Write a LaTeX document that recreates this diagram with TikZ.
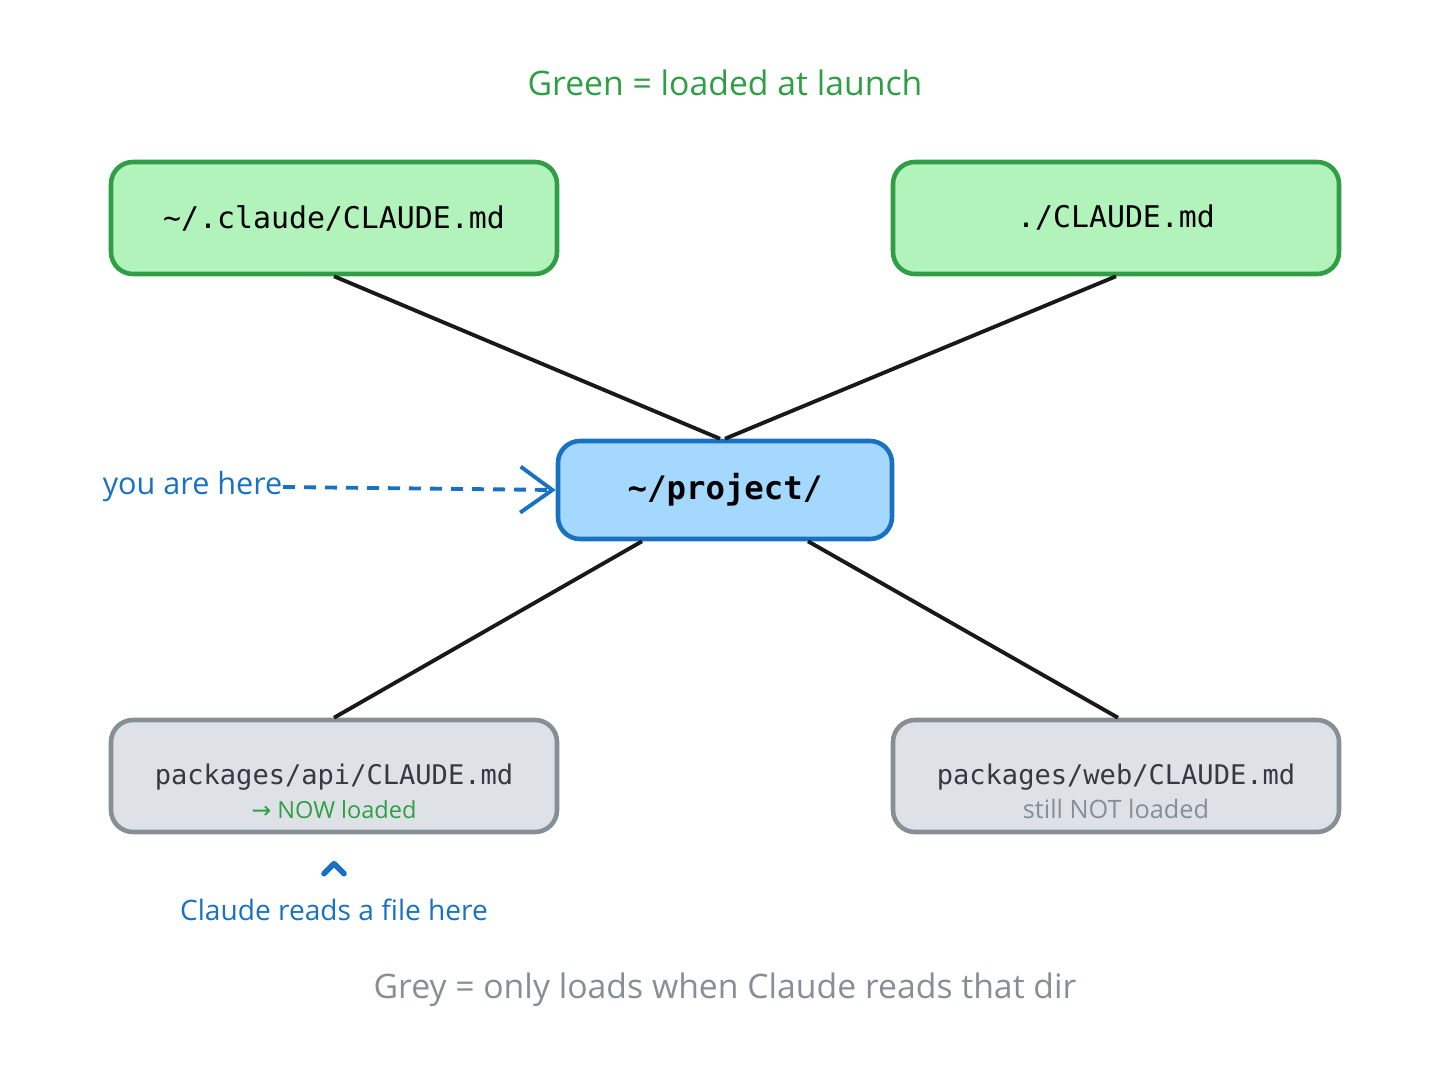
\documentclass[tikz,border=0pt]{standalone}
\usepackage{fontspec}
\setmainfont{Open Sans}
\setmonofont{DejaVu Sans Mono}
\newfontfamily\arrowsym{DejaVu Sans}
\usetikzlibrary{arrows.meta}
\definecolor{leaffill}{HTML}{B2F2BB}
\definecolor{leafline}{HTML}{2F9E44}
\definecolor{herefill}{HTML}{A5D8FF}
\definecolor{hereline}{HTML}{1971C2}
\definecolor{lazyfill}{HTML}{DEE2E6}
\definecolor{lazyline}{HTML}{868E96}
\definecolor{lazytext}{HTML}{343A40}
\tikzset{
  filebox/.style={draw, rounded corners=0.22cm, line width=1.3pt,
    minimum width=4.46cm, minimum height=1.12cm, align=center},
  loaded/.style={filebox, fill=leaffill, draw=leafline,
    font=\ttfamily\fontsize{8.5}{10}\selectfont},
  lazy/.style={filebox, fill=lazyfill, draw=lazyline, text=lazytext,
    inner ysep=0pt, text height=0.96cm, text depth=0.12cm,
    font=\ttfamily\fontsize{7.7}{9.6}\selectfont},
  link/.style={line width=1.1pt, black!90},
  note/.style={font=\fontsize{9.6}{11}\selectfont}
}
\begin{document}
\begin{tikzpicture}
  \useasboundingbox (0,0) rectangle (14.56,10.73);
  % legend on top
  \node[note, text=leafline] (green) at (7.25,9.90) {Green = loaded at launch};
  % always loaded files
  \node[loaded] (home) at (3.34,8.55) {\~{}/.claude/CLAUDE.md};
  \node[loaded] (root) at (11.16,8.55) {./CLAUDE.md};
  % working directory
  \node[filebox, fill=herefill, draw=hereline, minimum width=3.34cm,
    minimum height=0.98cm, font=\ttfamily\bfseries\fontsize{9.2}{11}\selectfont]
    (proj) at (7.25,5.83) {\~{}/project/};
  \node[text=hereline, anchor=east, inner sep=0pt, font=\fontsize{8.7}{10}\selectfont]
    (you) at (2.83,5.86) {you are here};
  \draw[hereline, line width=1.1pt, dash pattern=on 1.2mm off 0.9mm,
    -{Straight Barb[length=3.2mm,width=4.6mm,line width=1.1pt]}] (you.east) -- (proj.west);
  % files below, loaded lazily
  \node[lazy] (api) at (3.34,2.97) {packages/api/CLAUDE.md\\
    {\rmfamily\fontsize{6.7}{8}\selectfont\color{leafline}{\arrowsym→} NOW loaded}};
  \node[lazy] (web) at (11.16,2.97) {packages/web/CLAUDE.md\\
    {\rmfamily\fontsize{7.2}{8}\selectfont\color{lazyline}still NOT loaded}};
  % links
  \draw[link] (home.south) -- ([xshift=-0.05cm]proj.north);
  \draw[link] (root.south) -- (proj.north);
  \draw[link] ([xshift=-0.83cm]proj.south) -- (api.north);
  \draw[link] ([xshift=0.83cm]proj.south) -- ([xshift=0.02cm]web.north);
  % read marker
  \node[text=hereline, font=\fontsize{8.0}{9}\selectfont] (reads) at (3.34,1.63)
    {Claude reads a file here};
  \draw[hereline, line width=1.6pt, line cap=round, line join=round]
    ([shift={(-0.1,0.13)}]reads.north) -- ++(0.1,0.1) -- ++(0.1,-0.1);
  % legend at the bottom
  \node[note, text=lazyline] (grey) at (7.25,0.83)
    {Grey = only loads when Claude reads that dir};
\end{tikzpicture}
\end{document}
